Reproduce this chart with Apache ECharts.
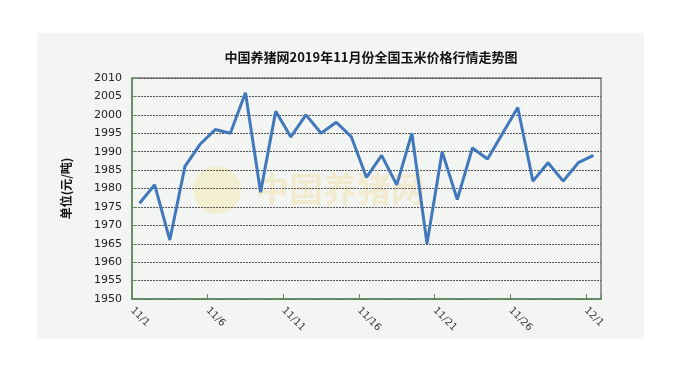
<!DOCTYPE html>
<html>
<head>
<meta charset="utf-8">
<script src="https://cdn.jsdelivr.net/npm/echarts@6/dist/echarts.min.js"></script>
<style>
html,body{margin:0;padding:0;background:#ffffff;}
#c{width:680px;height:370px;}
</style>
</head>
<body>
<div id="c"></div>
<script>
// ---- data ----
var title = '中国养猪网2019年11月份全国玉米价格行情走势图';
var yAxisName = '单位(元/吨)';
var dates = ['11/1','11/2','11/3','11/4','11/5','11/6','11/7','11/8','11/9','11/10',
  '11/11','11/12','11/13','11/14','11/15','11/16','11/17','11/18','11/19','11/20',
  '11/21','11/22','11/23','11/24','11/25','11/26','11/27','11/28','11/29','11/30','12/1'];
var prices = [1976,1981,1966,1986,1992,1996,1995,2006,1979,2001,
  1994,2000,1995,1998,1994,1983,1989,1981,1995,1965,
  1990,1977,1991,1988,1995,2002,1982,1987,1982,1987,1989];
var yTicks = [1950,1955,1960,1965,1970,1975,1980,1985,1990,1995,2000,2005,2010];

// each day occupies one unit slot; the point sits at the slot centre
var seriesData = prices.map(function(v, i){ return [i + 0.5, v]; });

var chart = echarts.init(document.getElementById('c'), null, {renderer:'canvas'});
chart.setOption({
  animation:false,
  backgroundColor:'#ffffff',
  graphic:[
    {type:'rect', left:37, top:33, shape:{width:607, height:306}, style:{fill:'#f3f5f2'}, z:-10},
    {type:'circle', shape:{cx:217, cy:190, r:24}, style:{fill:'rgba(240,225,150,0.35)'}, z:-5},
    {type:'text', left:255, top:172, style:{text:'中国养猪网', font:'bold 34px "Noto Sans CJK SC"', fill:'rgba(240,215,140,0.35)'}, z:-5}
  ],
  title:{
    text:title, left:366, top:46, textAlign:'center',
    textStyle:{fontSize:13, fontWeight:'bold', color:'#111', fontFamily:'"Noto Sans CJK SC", sans-serif'}
  },
  grid:{left:132, right:79, top:78, bottom:71, show:true, borderColor:'#7a7a7a', borderWidth:1.5, backgroundColor:'transparent'},
  xAxis:{
    type:'value', min:0, max:dates.length, interval:5,
    axisLine:{show:true, lineStyle:{color:'#5b8a5b', width:1.5}},
    axisTick:{show:true, inside:true, length:5, lineStyle:{color:'#5b8a5b'}},
    splitLine:{show:false},
    axisLabel:{
      rotate:-45, margin:10, color:'#333', fontSize:10, fontFamily:'"DejaVu Sans", sans-serif',
      formatter:function(v){ var i = Math.round(v); return i < dates.length ? dates[i] : ''; }
    }
  },
  yAxis:{
    type:'value', min:yTicks[0], max:yTicks[yTicks.length-1], interval:5,
    name:yAxisName, nameLocation:'middle', nameGap:60, nameRotate:90,
    nameTextStyle:{fontSize:12, fontWeight:'bold', color:'#111', fontFamily:'"Noto Sans CJK SC", sans-serif'},
    axisLine:{show:true, lineStyle:{color:'#5b8a5b', width:1.5}},
    axisTick:{show:true, inside:true, length:5, lineStyle:{color:'#5b8a5b'}},
    splitLine:{show:true, lineStyle:{color:'#555', type:[2,1], width:1}},
    axisLabel:{color:'#222', fontSize:11, margin:10, fontFamily:'"DejaVu Sans", sans-serif',
      formatter:function(v){ return String(v); }}
  },
  series:[{
    type:'line', data:seriesData, symbol:'none',
    lineStyle:{color:'#4178bb', width:3}
  }]
});
</script>
</body>
</html>
